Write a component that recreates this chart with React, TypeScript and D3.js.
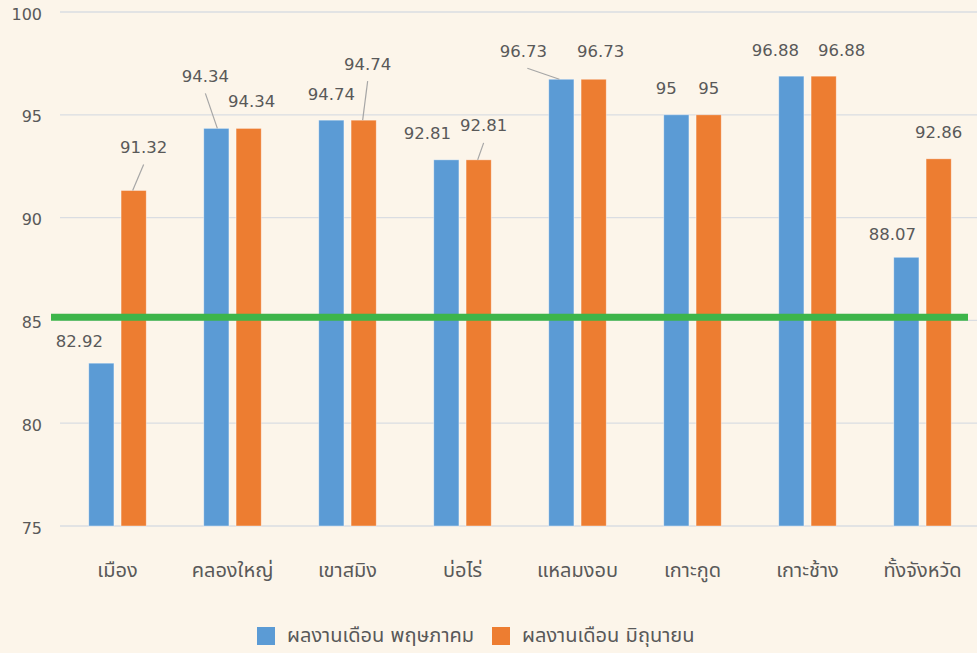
import React, { useEffect, useRef } from 'react';
import * as d3 from 'd3';

const categories = ['เมือง', 'คลองใหญ่', 'เขาสมิง', 'บ่อไร่', 'แหลมงอบ', 'เกาะกูด', 'เกาะช้าง', 'ทั้งจังหวัด'];
const seriesNames = ['ผลงานเดือน พฤษภาคม', 'ผลงานเดือน มิถุนายน'];
const mayValues = [82.92, 94.34, 94.74, 92.81, 96.73, 95, 96.88, 88.07];
const juneValues = [91.32, 94.34, 94.74, 92.81, 96.73, 95, 96.88, 92.86];
const yTicks = [75, 80, 85, 90, 95, 100];
const targetValue = 85.15;

// label nudges (px) as dragged in the original, [dx, dy, leader]
const mayNudge: [number, number, boolean][] = [
  [-22, -21, false], [-11, -51, true], [0, -25, false], [-19, -25, false],
  [-38, -27, true], [-10, -25, false], [-16, -25, false], [-14, -22, false],
];
const juneNudge: [number, number, boolean][] = [
  [10, -42, true], [3, -26, false], [4, -55, true], [5, -33, true],
  [7, -27, false], [0, -25, false], [18, -25, false], [0, -25, false],
];

const colors = ['#5b9bd5', '#ed7d31'];
const textColor = '#595959';
const font = '"DejaVu Sans", "Noto Sans Thai", "Noto Sans", sans-serif';

export default function App() {
  const ref = useRef<SVGSVGElement>(null);

  useEffect(() => {
    const svg = d3.select(ref.current);
    svg.selectAll('*').remove();
    const W = 977, H = 653;

    svg.append('rect').attr('width', W).attr('height', H).attr('fill', '#fcf5ea');

    const x0 = d3.scaleBand<string>().domain(categories).range([60, 980])
      .paddingInner(0.5).paddingOuter(0.25);
    const x1 = d3.scaleBand<number>().domain([0, 1]).range([0, x0.bandwidth()]).paddingInner(0.22);
    const y = d3.scaleLinear().domain([75, 100]).range([526, 12]);

    // gridlines
    svg.append('g').selectAll('line').data(yTicks).enter().append('line')
      .attr('x1', 60).attr('x2', W)
      .attr('y1', d => y(d)).attr('y2', d => y(d))
      .attr('stroke', '#dadde2').attr('stroke-width', 1.3);

    svg.append('g').selectAll('text').data(yTicks).enter().append('text')
      .attr('x', 42).attr('y', d => y(d) + 3)
      .attr('text-anchor', 'end').attr('dominant-baseline', 'middle')
      .attr('fill', textColor).style('font-family', font).style('font-size', '16px')
      .text(d => d);

    const series = [mayValues, juneValues];
    const nudges = [mayNudge, juneNudge];

    series.forEach((vals, k) => {
      const g = svg.append('g');
      const cx = (i: number) => (x0(categories[i]) as number) + (x1(k) as number) + x1.bandwidth() / 2;
      g.selectAll('rect').data(vals).enter().append('rect')
        .attr('x', (_, i) => (x0(categories[i]) as number) + (x1(k) as number))
        .attr('y', d => y(d))
        .attr('width', x1.bandwidth())
        .attr('height', d => y(75) - y(d))
        .attr('fill', colors[k])
        .attr('stroke', '#ffffff').attr('stroke-opacity', 0.5).attr('stroke-width', 0.8);

      vals.forEach((v, i) => {
        const [dx, dy, leader] = nudges[k][i];
        const lx = cx(i) + dx, ly = y(v) + dy;
        if (leader) {
          g.append('line')
            .attr('x1', lx + (dx < -25 ? 4 : 0)).attr('y1', ly + 16)
            .attr('x2', cx(i) - (dx < -25 ? 2 : dx > 0 ? 1 : -1)).attr('y2', y(v))
            .attr('stroke', '#a6a6a6').attr('stroke-width', 1.2);
        }
        g.append('text')
          .attr('x', lx).attr('y', ly)
          .attr('text-anchor', 'middle').attr('dominant-baseline', 'middle')
          .attr('fill', textColor).style('font-family', font).style('font-size', '16.5px')
          .text(v);
      });
    });

    // target line
    svg.append('line')
      .attr('x1', 51).attr('x2', 968)
      .attr('y1', y(targetValue)).attr('y2', y(targetValue))
      .attr('stroke', '#3db54a').attr('stroke-width', 7);

    // category labels
    svg.append('g').selectAll('text').data(categories).enter().append('text')
      .attr('x', d => (x0(d) as number) + x0.bandwidth() / 2)
      .attr('y', 571)
      .attr('text-anchor', 'middle').attr('dominant-baseline', 'middle')
      .attr('fill', textColor).style('font-family', font).style('font-size', '20px')
      .text(d => d);

    // legend
    const legendX = [257, 492];
    seriesNames.forEach((name, k) => {
      svg.append('rect').attr('x', legendX[k]).attr('y', 627).attr('width', 18).attr('height', 18)
        .attr('fill', colors[k]);
      svg.append('text').attr('x', legendX[k] + 30).attr('y', 636)
        .attr('dominant-baseline', 'middle')
        .attr('fill', textColor).style('font-family', font).style('font-size', '20px')
        .text(name);
    });
  }, []);

  return (
    <svg ref={ref} width={977} height={653}
      style={{ position: 'absolute', left: 0, top: 0, display: 'block' }} />
  );
}
